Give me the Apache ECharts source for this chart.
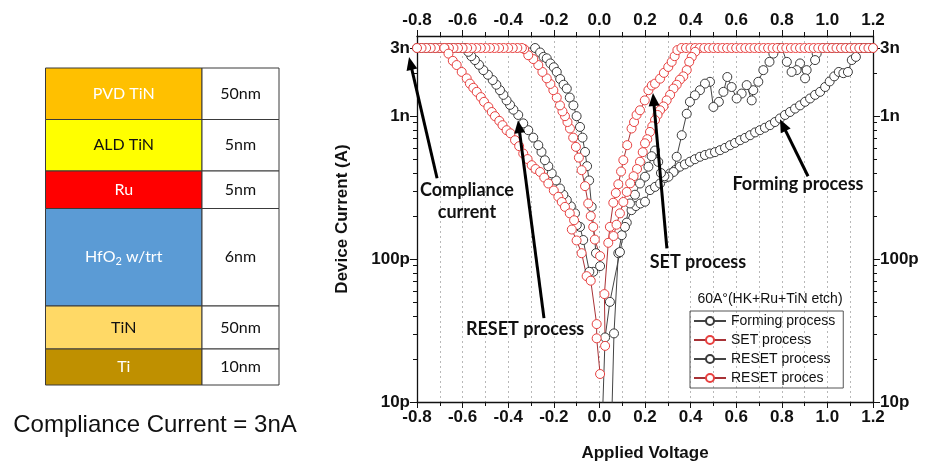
<!DOCTYPE html>
<html><head><meta charset="utf-8">
<script src="https://cdn.jsdelivr.net/npm/echarts@6/dist/echarts.min.js"></script>
<style>html,body{margin:0;padding:0;background:#fff}#c{width:929px;height:465px}</style>
</head><body><div id="c"></div>
<script>
// ---------------- data (Voltage in V, Current in A) ----------------
const seriesNames = ['Forming process', 'SET process', 'RESET process', 'RESET proces'];

const formingV = [0.046,0.064,0.083,0.098,0.12,0.141,0.16,0.18,0.2,0.222,0.244,0.266,0.288,0.31,0.332,0.353,0.375,0.397,0.419,0.441,0.463,0.485,0.507,0.529,0.551,0.573,0.595,0.617,0.639,0.661,0.683,0.704,0.726,0.748,0.77,0.792,0.814,0.836,0.858,0.88,0.902,0.924,0.946,0.968,0.99,1.01,1.03,1.05,1.07,1.09,1.107,1.125,1.145,1.165,1.185,1.2,
  1.18,1.16,1.14,1.12,1.10,1.08,1.06,1.04,1.02,1.00,0.98,
  0.953,0.946,0.909,0.902,0.88,0.865,0.843,0.822,0.80,0.785,0.763,0.746,0.719,0.697,0.675,0.668,0.646,0.624,0.602,0.58,0.561,0.544,0.524,0.50,0.485,0.463,0.441,0.419,0.397,0.383,0.361,0.339,0.325,0.303,0.285,0.27,0.258,0.244,0.229,0.215,0.2,0.178,0.156,0.134,0.112,0.09,0.046,0.025,0.003];
const formingI = [2.5e-12,3.02e-11,1.10e-10,1.47e-10,1.80e-10,2.20e-10,2.35e-10,2.45e-10,2.52e-10,3.04e-10,3.20e-10,3.38e-10,3.70e-10,3.98e-10,4.20e-10,4.43e-10,4.60e-10,4.80e-10,5.00e-10,5.20e-10,5.35e-10,5.48e-10,5.60e-10,5.78e-10,6.00e-10,6.26e-10,6.50e-10,6.79e-10,7.05e-10,7.36e-10,7.70e-10,7.98e-10,8.30e-10,8.65e-10,9.10e-10,9.64e-10,1.02e-9,1.07e-9,1.13e-9,1.19e-9,1.26e-9,1.33e-9,1.41e-9,1.48e-9,1.60e-9,1.75e-9,1.90e-9,2.04e-9,2.00e-9,2.04e-9,2.47e-9,2.60e-9,3.0e-9,3.0e-9,3.0e-9,3.0e-9,
  3.0e-9,3.0e-9,3.0e-9,3.0e-9,3.0e-9,3.0e-9,3.0e-9,3.0e-9,3.0e-9,3.0e-9,3.0e-9,
  2.74e-9,2.47e-9,2.10e-9,1.84e-9,2.34e-9,2.10e-9,2.04e-9,2.40e-9,3.0e-9,3.0e-9,2.74e-9,2.40e-9,2.10e-9,1.74e-9,1.52e-9,1.29e-9,1.65e-9,1.44e-9,1.33e-9,1.60e-9,1.88e-9,1.48e-9,1.26e-9,1.16e-9,1.74e-9,1.69e-9,1.52e-9,1.40e-9,1.26e-9,1.04e-9,7.36e-10,5.2e-10,4.07e-10,3.77e-10,3.8e-10,4.0e-10,4.79e-10,5.75e-10,5.25e-10,4.43e-10,3.77e-10,3.38e-10,2.82e-10,2.45e-10,1.68e-10,1.12e-10,5.02e-11,2.83e-11,2.5e-12];

const setV = [0.025,0.022,0.039,0.046,0.061,0.072,0.083,0.095,0.105,0.122,0.141,0.152,0.163,0.178,0.199,0.215,0.23,0.244,0.266,0.283,0.302,0.317,0.33,0.342,
  0.36,0.38,0.40,0.42,0.44,0.46,0.48,0.50,0.52,0.54,0.56,0.58,0.60,0.62,0.64,0.66,0.68,0.70,0.72,0.74,0.76,0.78,0.80,0.82,0.84,0.86,0.88,0.90,0.92,0.94,0.96,0.98,1.00,1.02,1.04,1.06,1.08,1.10,1.12,1.14,1.16,1.18,1.20,
  0.42,0.405,0.394,0.383,0.368,0.353,0.339,0.325,0.31,0.295,0.281,0.266,0.255,0.244,0.232,0.222,0.21,0.2,0.19,0.178,0.165,0.15,0.135,0.12,0.105,0.09,0.075,0.062];
const setI = [2.47e-11,5.69e-11,1.30e-10,1.68e-10,2.48e-10,2.90e-10,3.34e-10,4.10e-10,4.92e-10,6.27e-10,8.20e-10,9.10e-10,1.02e-9,1.10e-9,1.29e-9,1.52e-9,1.64e-9,1.69e-9,1.83e-9,2.01e-9,2.21e-9,2.40e-9,2.63e-9,2.90e-9,
  3e-9,3e-9,3e-9,3e-9,3e-9,3e-9,3e-9,3e-9,3e-9,3e-9,3e-9,3e-9,3e-9,3e-9,3e-9,3e-9,3e-9,3e-9,3e-9,3e-9,3e-9,3e-9,3e-9,3e-9,3e-9,3e-9,3e-9,3e-9,3e-9,3e-9,3e-9,3e-9,3e-9,3e-9,3e-9,3e-9,3e-9,3e-9,3e-9,3e-9,3e-9,3e-9,3e-9,
  2.82e-9,2.60e-9,2.40e-9,2.10e-9,1.90e-9,1.80e-9,1.66e-9,1.56e-9,1.41e-9,1.29e-9,1.17e-9,1.10e-9,1.02e-9,9.4e-10,8.5e-10,7.76e-10,6.9e-10,6.46e-10,5.6e-10,4.8e-10,4.27e-10,3.8e-10,3.39e-10,2.95e-10,2.51e-10,2.09e-10,1.74e-10,1.45e-10];

const resetBlackV = [0.003,-0.027,-0.044,-0.071,-0.085,-0.099,-0.107,-0.125,-0.143,-0.158,-0.173,-0.19,-0.209,-0.224,-0.239,-0.254,-0.268,-0.29,-0.312,-0.334,-0.356,-0.377,-0.392,-0.407,-0.421,-0.436,-0.452,-0.468,-0.489,-0.509,-0.528,-0.546,-0.562,-0.575,-0.59,
  -0.60,-0.62,-0.64,-0.66,-0.68,-0.70,-0.72,-0.74,-0.76,-0.78,-0.80,
  -0.282,-0.26,-0.245,-0.231,-0.215,-0.2,-0.187,-0.172,-0.157,-0.143,-0.13,-0.114,-0.1,-0.085,-0.074,-0.063,-0.054,-0.045,-0.034,-0.015];
const resetBlackI = [8.93e-11,8.15e-11,8.15e-11,1.36e-10,1.68e-10,1.73e-10,2.09e-10,2.34e-10,2.59e-10,2.82e-10,3.12e-10,3.55e-10,3.98e-10,4.47e-10,4.92e-10,5.62e-10,6.27e-10,7.08e-10,7.98e-10,8.91e-10,1.02e-9,1.11e-9,1.2e-9,1.29e-9,1.41e-9,1.52e-9,1.66e-9,1.79e-9,1.95e-9,2.10e-9,2.29e-9,2.47e-9,2.63e-9,2.82e-9,3.0e-9,
  3e-9,3e-9,3e-9,3e-9,3e-9,3e-9,3e-9,3e-9,3e-9,3e-9,3e-9,
  3.0e-9,2.79e-9,2.6e-9,2.54e-9,2.34e-9,2.2e-9,2.04e-9,1.82e-9,1.66e-9,1.56e-9,1.35e-9,1.19e-9,1.0e-9,8.41e-10,7.08e-10,5.62e-10,4.47e-10,3.55e-10,2.32e-10,1.1e-10];

const resetRedV = [0.003,-0.02,-0.027,-0.038,-0.049,-0.063,-0.078,-0.09,-0.103,-0.115,-0.129,-0.14,-0.151,-0.162,-0.173,-0.187,-0.202,-0.215,-0.231,-0.25,-0.268,-0.29,-0.312,-0.33,
  -0.34,-0.36,-0.38,-0.40,-0.42,-0.44,-0.46,-0.48,-0.50,-0.52,-0.54,-0.56,-0.58,-0.60,-0.62,-0.64,-0.66,-0.68,-0.70,-0.72,-0.74,-0.76,-0.78,-0.80,
  -0.68,-0.662,-0.643,-0.626,-0.604,-0.582,-0.568,-0.553,-0.538,-0.52,-0.506,-0.487,-0.472,-0.458,-0.439,-0.425,-0.407,-0.39,-0.37,-0.352,-0.334,-0.315,-0.297,-0.28,-0.26,-0.242,-0.224,-0.2,-0.18,-0.165,-0.151,-0.13,-0.111,-0.121,-0.1,-0.078,-0.056,-0.038,-0.012,-0.012,0.003];
const resetRedI = [1.05e-10,1.37e-10,1.68e-10,2.0e-10,2.45e-10,3.24e-10,4.19e-10,5.13e-10,6.1e-10,7.08e-10,8.2e-10,9.1e-10,1.0e-9,1.08e-9,1.19e-9,1.35e-9,1.52e-9,1.68e-9,1.84e-9,2.04e-9,2.28e-9,2.51e-9,2.67e-9,2.95e-9,
  3e-9,3e-9,3e-9,3e-9,3e-9,3e-9,3e-9,3e-9,3e-9,3e-9,3e-9,3e-9,3e-9,3e-9,3e-9,3e-9,3e-9,3e-9,3e-9,3e-9,3e-9,3e-9,3e-9,3e-9,
  3.0e-9,2.74e-9,2.44e-9,2.28e-9,2.04e-9,1.84e-9,1.69e-9,1.58e-9,1.48e-9,1.36e-9,1.26e-9,1.16e-9,1.07e-9,1.0e-9,9.27e-10,8.65e-10,7.98e-10,7.59e-10,6.79e-10,6.17e-10,5.48e-10,5.01e-10,4.54e-10,4.27e-10,4.07e-10,3.72e-10,3.38e-10,3.02e-10,2.73e-10,2.51e-10,2.32e-10,2.09e-10,1.87e-10,1.61e-10,1.35e-10,1.10e-10,7.6e-11,7.06e-11,3.51e-11,2.79e-11,1.57e-11];

// axis ticks / labels
const yMajorValues = [1e-11, 1e-10, 1e-9, 3e-9];
const yMajorLabels = ['10p', '100p', '1n', '3n'];
const yMinorValues = [2e-11,3e-11,4e-11,5e-11,6e-11,7e-11,8e-11,9e-11,2e-10,3e-10,4e-10,5e-10,6e-10,7e-10,8e-10,9e-10,2e-9];
const yRange = [1e-11, 3.64e-9];
const xRange = [-0.8, 1.2];
const xInterval = 0.2;

// annotations (data coordinates)
const arrowList = [
  [[-0.712, 3.68e-10], [-0.835, 2.59e-9]],
  [[-0.243, 3.86e-11], [-0.357, 9.38e-10]],
  [[0.296, 1.19e-10], [0.235, 1.45e-9]],
  [[0.915, 3.8e-10], [0.792, 9.53e-10]]
];
const noteTexts = ['Compliance\ncurrent', 'RESET process', 'SET process', 'Forming process'];
const notePos = [[-0.581, 2.55e-10], [-0.326, 3.24e-11], [0.432, 9.53e-11], [0.871, 3.34e-10]];
const legendTitle = '60A°(HK+Ru+TiN etch)';

// layer stack table
const layerNames = ['PVD TiN', 'ALD TiN', 'Ru', 'HfO{sub|2}{n| w/trt}', 'TiN', 'Ti'];
const layerThickness = ['50nm', '5nm', '5nm', '6nm', '50nm', '10nm'];
const layerFill = ['#FFC000', '#FFFF00', '#FF0000', '#5B9BD5', '#FFD966', '#BF9000'];
const layerTextColor = ['#ffffff', '#111111', '#ffffff', '#ffffff', '#111111', '#ffffff'];
const rowEdges = [68, 119.5, 171, 208.5, 306, 349, 385];
const complianceNote = 'Compliance Current = 3nA';

// ---------------- chart ----------------
const chart = echarts.init(document.getElementById('c'));
const LOG = v => Math.log10(v);
const majorLog = yMajorValues.map(LOG);
const minorLog = yMinorValues.map(LOG);
const AX = '#111';
const labelFont = {fontFamily: 'Liberation Sans', fontWeight: 'bold', fontSize: 17, color: '#111'};
const pairs = (V, I) => V.map((v, i) => [v, I[i]]);

const colors = {
  black: {sym: '#3a3a3a', line: '#444444'},
  red: {sym: '#e8403f', line: '#a83236'}
};
function mkSeries(name, V, I, c) {
  return {
    type: 'line', name, data: pairs(V, I), xAxisIndex: 0, yAxisIndex: 0,
    symbol: 'circle', symbolSize: 9, showAllSymbol: true, clip: true,
    itemStyle: {color: '#ffffff', borderColor: c.sym, borderWidth: 1},
    lineStyle: {color: c.line, width: 1},
    emphasis: {disabled: true}, z: 3
  };
}

function xAxisCfg(pos, withName) {
  return {
    type: 'value', position: pos, min: xRange[0], max: xRange[1], interval: xInterval,
    name: withName ? 'Applied Voltage' : '', nameLocation: 'middle', nameGap: 43,
    nameTextStyle: labelFont,
    axisLine: {show: true, onZero: false, lineStyle: {color: AX, width: 1.3}},
    axisTick: {show: true, length: 6, lineStyle: {color: AX, width: 1}},
    minorTick: {show: true, splitNumber: 2, length: 4, lineStyle: {color: AX, width: 1}},
    axisLabel: Object.assign({margin: 7, formatter: v => v.toFixed(1)}, labelFont),
    splitLine: {show: withName, lineStyle: {type: [2, 3], color: '#b8b8b8', width: 1}},
    minorSplitLine: {show: withName, lineStyle: {type: [2, 3], color: '#b8b8b8', width: 1}}
  };
}
function yTickAxis(pos, major) {
  return {
    type: 'value', position: pos, min: LOG(yRange[0]), max: LOG(yRange[1]),
    axisLine: {show: false, onZero: false},
    axisTick: {show: true, customValues: major ? majorLog : minorLog, length: major ? 7 : 4, lineStyle: {color: AX, width: 1}},
    axisLabel: major ? Object.assign({show: true, margin: 7, customValues: majorLog,
      formatter: v => { const i = majorLog.findIndex(m => Math.abs(m - v) < 1e-3); return i >= 0 ? yMajorLabels[i] : ''; }}, labelFont)
      : {show: false},
    splitLine: {show: false}
  };
}

const option = {
  animation: false,
  backgroundColor: '#ffffff',
  grid: {left: 417, right: 56, top: 36, bottom: 63, containLabel: false, outerBoundsMode: 'none'},
  xAxis: [xAxisCfg('bottom', true), xAxisCfg('top', false)],
  yAxis: [
    {type: 'log', logBase: 10, position: 'left', min: yRange[0], max: yRange[1],
     name: 'Device Current (A)', nameLocation: 'middle', nameGap: 66, nameTextStyle: labelFont,
     axisLine: {show: true, onZero: false, lineStyle: {color: AX, width: 1.3}},
     axisTick: {show: false}, axisLabel: {show: false}, splitLine: {show: false}, minorTick: {show: false}},
    yTickAxis('left', true),
    yTickAxis('left', false),
    Object.assign(yTickAxis('right', true), {axisLine: {show: true, onZero: false, lineStyle: {color: AX, width: 1.3}}}),
    yTickAxis('right', false)
  ],
  legend: {
    orient: 'vertical', left: 690, top: 311, itemWidth: 32, itemHeight: 10, itemGap: 5,
    padding: [3, 8, 3, 3], borderColor: '#555', borderWidth: 1,
    textStyle: {fontFamily: 'Liberation Sans', fontSize: 14, color: '#111', lineHeight: 14},
    data: seriesNames
  },
  series: [
    mkSeries(seriesNames[0], formingV, formingI, colors.black),
    mkSeries(seriesNames[1], setV, setI, colors.red),
    mkSeries(seriesNames[2], resetBlackV, resetBlackI, colors.black),
    mkSeries(seriesNames[3], resetRedV, resetRedI, colors.red)
  ]
};
chart.setOption(option);

// ---------------- graphics: annotations + table ----------------
const g = [];
const toPx = p => chart.convertToPixel({xAxisIndex: 0, yAxisIndex: 0}, p);
arrowList.forEach(([tail, tip]) => {
  const a = toPx(tail), b = toPx(tip);
  const dx = b[0] - a[0], dy = b[1] - a[1], L = Math.hypot(dx, dy);
  const ux = dx / L, uy = dy / L, hl = 13, hw = 5.5;
  const bx = b[0] - ux * hl, by = b[1] - uy * hl;
  g.push({type: 'line', shape: {x1: a[0], y1: a[1], x2: bx + ux * 2, y2: by + uy * 2}, style: {stroke: '#000', lineWidth: 3}, z: 10});
  g.push({type: 'polygon', shape: {points: [[b[0], b[1]], [bx - uy * hw, by + ux * hw], [bx + uy * hw, by - ux * hw]]}, style: {fill: '#000'}, z: 10});
});
noteTexts.forEach((t, i) => {
  const p = toPx(notePos[i]);
  g.push({type: 'text', x: p[0], y: p[1], z: 11, style: {text: t, fontFamily: 'Lato', fontWeight: 'bold', fontSize: 18, lineHeight: 22, fill: '#111', align: 'center', verticalAlign: 'middle'}});
});
g.push({type: 'text', x: 770, y: 299, z: 11, style: {text: legendTitle, fontFamily: 'Liberation Sans', fontSize: 14, fill: '#111', align: 'center', verticalAlign: 'middle'}});

const tx0 = 45.5, tx1 = 202, tx2 = 279;
layerNames.forEach((nm, i) => {
  const y0 = rowEdges[i], y1 = rowEdges[i + 1];
  g.push({type: 'rect', shape: {x: tx0, y: y0, width: tx1 - tx0, height: y1 - y0}, style: {fill: layerFill[i], stroke: '#3a3a3a', lineWidth: 1}});
  g.push({type: 'rect', shape: {x: tx1, y: y0, width: tx2 - tx1, height: y1 - y0}, style: {fill: '#fff', stroke: '#3a3a3a', lineWidth: 1}});
  g.push({type: 'text', x: (tx0 + tx1) / 2, y: (y0 + y1) / 2, z: 5, style: {
    text: nm, fontFamily: 'Lato', fontSize: 16, fill: layerTextColor[i], align: 'center', verticalAlign: 'middle',
    rich: {n: {fontFamily: 'Lato', fontSize: 16, fill: layerTextColor[i], lineHeight: 20},
           sub: {fontFamily: 'Lato', fontSize: 11, fill: layerTextColor[i], lineHeight: 20, verticalAlign: 'bottom', padding: [6, 0, 0, 0]}}}});
  g.push({type: 'text', x: (tx1 + tx2) / 2, y: (y0 + y1) / 2, z: 5, style: {text: layerThickness[i], fontFamily: 'Lato', fontSize: 16, fill: '#111', align: 'center', verticalAlign: 'middle'}});
});
g.push({type: 'text', x: 155, y: 425, style: {text: complianceNote, fontFamily: 'Liberation Sans', fontSize: 24, fill: '#111', align: 'center', verticalAlign: 'middle'}});

chart.setOption({graphic: g});
</script>
</body></html>
